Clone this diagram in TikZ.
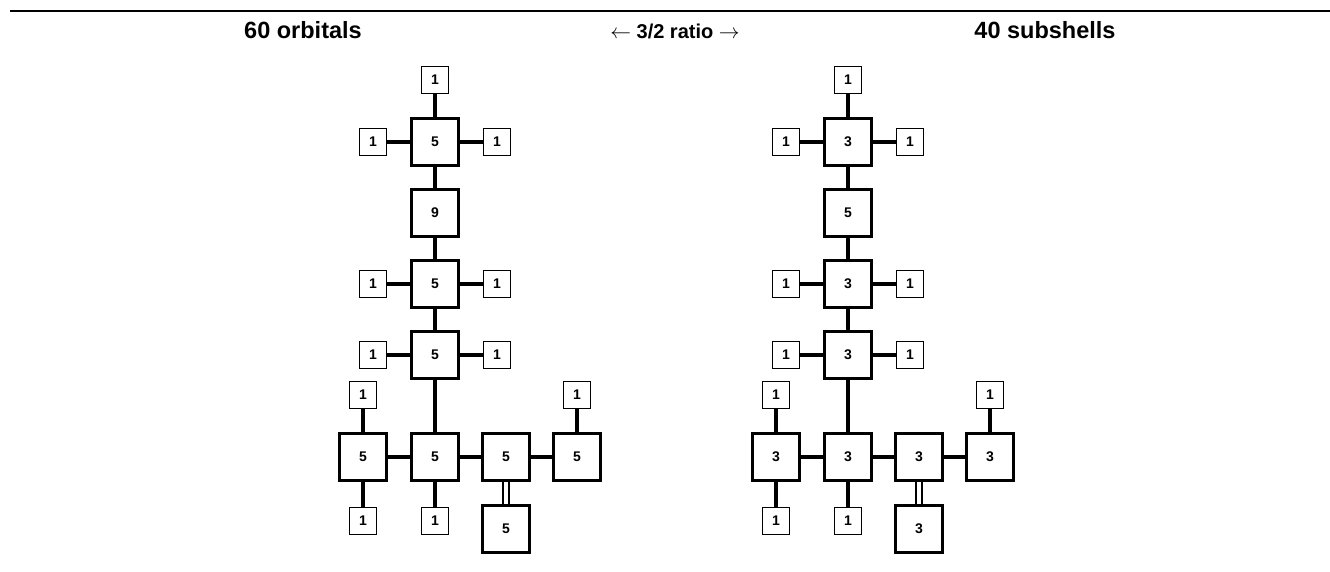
\documentclass[tikz,border=0pt]{standalone}
\usepackage{fontspec}
\setmainfont{Liberation Sans}
\usepackage{tikz}

\begin{document}
\begin{tikzpicture}[x=1pt, y=-1pt,
  big/.style={draw, line width=3pt, minimum size=47pt, inner sep=0pt, font=\bfseries\fontsize{14}{14}\selectfont},
  small/.style={draw, line width=1pt, minimum size=27pt, inner sep=0pt, font=\bfseries\fontsize{14}{14}\selectfont},
  link/.style={line width=3.5pt}]
\useasboundingbox (0,0) rectangle (1330,571);
\draw[line width=2pt] (10,11) -- (1330,11);

% headers
\node[anchor=base, font=\bfseries\fontsize{23.5}{23.5}\selectfont] (orb) at (303,38) {60 orbitals};
\node[anchor=base, font=\bfseries\fontsize{20}{20}\selectfont] (ratio) at (675,38) {$\leftarrow$ 3/2 ratio $\rightarrow$};
\node[anchor=base, font=\bfseries\fontsize{23.5}{23.5}\selectfont] (sub) at (1045,38) {40 subshells};

% the two trees
\foreach \p/\dx/\big/\mid in {l/0/5/9, r/413/3/5}{
\begin{scope}[xshift=\dx pt]
  % main column
  \node[small] (\p-top) at (435,80) {1};
  \node[big] (\p-b) at (435,213) {\mid};
  \foreach \n/\y in {a/142,c/284,d/355}{
    \node[big] (\p-\n) at (435,\y) {\big};
    \node[small] (\p-\n l) at (373,\y) {1};
    \node[small] (\p-\n r) at (497,\y) {1};
    \draw[link] (\p-\n l) -- (\p-\n);
    \draw[link] (\p-\n) -- (\p-\n r);
  }
  % bottom row
  \node[big] (\p-e) at (363,457) {\big};
  \node[big] (\p-f) at (435,457) {\big};
  \node[big] (\p-g) at (506,457) {\big};
  \node[big] (\p-h) at (577,457) {\big};
  \node[big] (\p-k) at (506,529) {\big};
  \node[small] (\p-eu) at (363,395) {1};
  \node[small] (\p-hu) at (577,395) {1};
  \node[small] (\p-ed) at (363,521) {1};
  \node[small] (\p-fd) at (435,521) {1};

  \draw[link] (\p-top) -- (\p-a) -- (\p-b) -- (\p-c) -- (\p-d) -- (\p-f);
  \draw[link] (\p-e) -- (\p-f) -- (\p-g) -- (\p-h);
  \draw[link] (\p-eu) -- (\p-e) -- (\p-ed);
  \draw[link] (\p-hu) -- (\p-h);
  \draw[link] (\p-f) -- (\p-fd);
  \draw[line width=2.6pt, double distance=3.6pt] (\p-g) -- (\p-k);
\end{scope}
}
\end{tikzpicture}
\end{document}
